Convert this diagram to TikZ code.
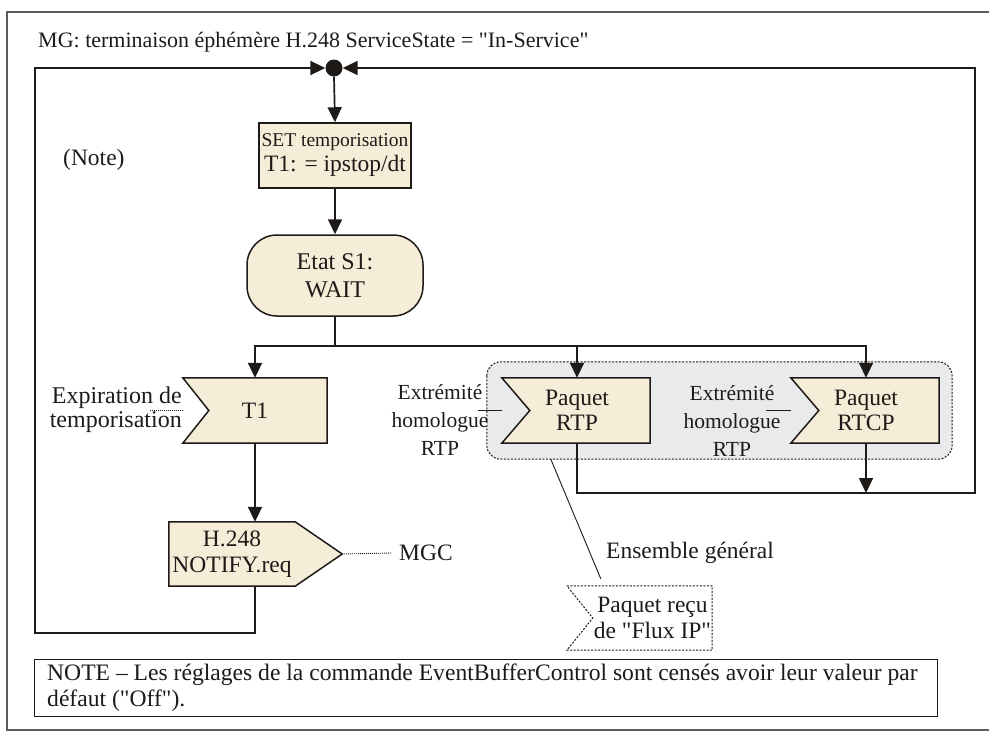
\documentclass[tikz,border=0pt]{standalone}
\usepackage{fontspec}
\setmainfont{Liberation Serif}[Ligatures=TeXOff]
\usetikzlibrary{arrows.meta,calc,backgrounds}

\definecolor{ink}{HTML}{1E1A18}
\definecolor{boxfill}{HTML}{F6EDD8}
\definecolor{grpfill}{HTML}{E9EAEC}
\definecolor{framec}{HTML}{5C5C5A}

\newcommand\fsz[2]{\fontsize{#1}{#2}\selectfont}

\tikzset{
  conn/.style={draw=ink, line width=1.7pt},
  arr/.style={conn, -{Triangle[length=15pt,width=14pt]}},
  thinline/.style={draw=ink, line width=0.9pt},
  dotline/.style={draw=ink, line width=0.9pt, dash pattern=on 1pt off 1pt},
  txt/.style={inner sep=0pt, align=center, text=ink, font=\fsz{23.5}{26}},
  hold/.style={txt, rectangle},
  boxshape/.style={draw=ink, fill=boxfill, line width=1.5pt},
  dotshape/.style={draw=ink, line width=1pt, dash pattern=on 2pt off 1.5pt},
}

\begin{document}
\begin{tikzpicture}[x=1pt,y=-1pt]
\useasboundingbox (0,0) rectangle (989,731);

% outer frame (right edge runs off the page)
\draw[framec, line width=1.3pt] (989,12) -- (7,12) -- (7,730) -- (989,730);

\node[txt, anchor=west, font=\fsz{22}{26}] (title) at (38,42)
  {MG: terminaison éphémère H.248 ServiceState = "In-Service"};

% junction
\node[circle, fill=ink, inner sep=0pt, minimum size=17pt] (dot) at (334,68) {};

\node[txt, anchor=west] (notelab) at (63,160) {(Note)};

% timer set and wait state
\node[hold, boxshape, minimum width=152pt, minimum height=65pt, font=\fsz{23.5}{25}] (set) at (335,155.5)
  {{\fsz{19.5}{25}\selectfont SET temporisation}\\T1: = ipstop/dt};
\node[hold, boxshape, rounded corners=30pt, minimum width=176pt, minimum height=81pt, font=\fsz{24}{28}] (etat) at (335,275.5)
  {Etat S1:\\WAIT};
\coordinate (bar) at (335,346);

% input signals
\node[hold, minimum width=144pt, minimum height=65pt] (t1) at (255,410.5) {T1};
\node[txt, align=right, anchor=east, font=\fsz{24}{24}] (t1lab) at (182,410) {Expiration de\\temporisation};

\node[hold, minimum width=465pt, minimum height=97pt] (grp) at (719.5,410.5) {};
\node[hold, minimum width=146pt, minimum height=65pt, font=\fsz{23.5}{25}] (rtp) at (577,410.5) {Paquet\\RTP};
\node[hold, minimum width=146pt, minimum height=65pt, font=\fsz{23.5}{25}] (rtcp) at (866,410.5) {Paquet\\RTCP};
\node[txt, font=\fsz{21.5}{28}] (lab1) at (440,420) {Extrémité\\homologue\\RTP};
\node[txt, font=\fsz{21.5}{28}] (lab2) at (732,421) {Extrémité\\homologue\\RTP};

% output signal
\node[hold, minimum width=126pt, minimum height=64pt, font=\fsz{23.5}{26}] (notify) at (232,554) {H.248\\NOTIFY.req};
\coordinate (notifytip) at ($(notify.east)+(47,0)$);
\node[txt, anchor=west] (mgc) at (399,553) {MGC};

% comment symbol
\node[txt, anchor=west] (ens) at (606,553) {Ensemble général};
\node[hold, minimum width=119pt, minimum height=64pt, font=\fsz{23.5}{26}] (recu) at (652.5,618) {Paquet reçu\\de "Flux IP"};

% note
\node[draw=ink, line width=1pt, rectangle, inner sep=0pt, minimum width=903pt, minimum height=57pt, anchor=north west] (notebox) at (34,659) {};
\node[txt, align=left, anchor=north west, font=\fsz{23.6}{26}] (notetxt) at (47,664)
  {NOTE – Les réglages de la commande EventBufferControl sont censés avoir leur valeur par\\défaut ("Off").};

% outlines behind the texts
\begin{pgfonlayer}{background}
  \path[fill=grpfill, draw=ink, line width=1pt, dash pattern=on 2pt off 1.5pt, rounded corners=14pt]
    (grp.north west) rectangle (grp.south east);
  \path[boxshape] (t1.north west) -- (t1.north east) -- (t1.south east) -- (t1.south west)
    -- ($(t1.west)+(26,0)$) -- cycle;
  \path[boxshape] ($(rtp.north west)+(-2,0)$) -- (rtp.north east) -- (rtp.south east) -- ($(rtp.south west)+(-2,0)$)
    -- ($(rtp.west)+(26,0)$) -- cycle;
  \path[boxshape] ($(rtcp.north west)+(-2,0)$) -- (rtcp.north east) -- (rtcp.south east) -- ($(rtcp.south west)+(-2,0)$)
    -- ($(rtcp.west)+(26,0)$) -- cycle;
  \path[boxshape] (notify.north west) -- (notify.north east) -- (notifytip) -- (notify.south east)
    -- (notify.south west) -- cycle;
  \path[dotshape] ($(recu.north west)+(-26,0)$) -- (recu.north east) -- (recu.south east)
    -- ($(recu.south west)+(-26,0)$) -- (recu.west) -- cycle;
\end{pgfonlayer}

% flow
\draw[arr] (dot.south) -- (set.north);
\draw[arr] (set.south) -- (etat.north);
\draw[conn] (etat.south) -- (bar);
\draw[arr] (bar) -| (t1.north);
\draw[arr] (bar) -| (rtp.north);
\draw[arr] (bar) -| (rtcp.north);
\draw[arr] (t1.south) -- (t1.south |- notify.north);

\coordinate (loopL) at (35,633);
\coordinate (loopR) at (975,493);
\draw[arr] (t1.south |- notify.south) |- (loopL) |- (dot.west);
\draw[arr] (rtp.south) |- (loopR) |- (dot.east);
\draw[arr] (rtcp.south) -- (rtcp.south |- loopR);

% comment connectors
\draw[dotline] ($(t1.west)+(-33,0)$) -- (t1.west);
\draw[thinline] ($(rtp.west)+(-26,0)$) -- ($(rtp.west)+(-2,0)$);
\draw[thinline] ($(rtcp.west)+(-27,0)$) -- ($(rtcp.west)+(-2,0)$);
\draw[dotline] (notifytip) -- ([xshift=-7pt]mgc.west);
\draw[thinline] ($(grp.south west)+(64,0)$) -- ($(recu.north west)+(8,-7)$);
\end{tikzpicture}
\end{document}
